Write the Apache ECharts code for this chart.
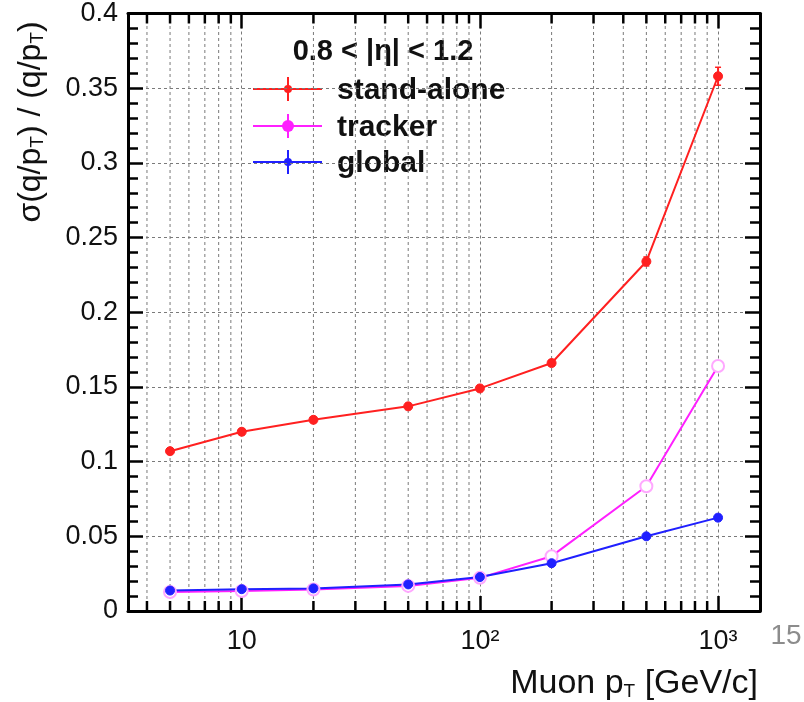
<!DOCTYPE html>
<html>
<head>
<meta charset="utf-8">
<script src="https://cdn.jsdelivr.net/npm/echarts@6/dist/echarts.min.js"></script>
<style>
  html, body { margin: 0; padding: 0; background: #ffffff; }
  #chart { width: 804px; height: 702px; }
</style>
</head>
<body>
<div id="chart"></div>
<script>
// Muon transverse-momentum values (GeV/c)
const ptValues = [5, 10, 20, 50, 100, 200, 500, 1000];

// Relative q/pT resolution per reconstruction type
const standAlone    = [0.107, 0.120, 0.128, 0.137, 0.149, 0.166, 0.234, 0.358];
const standAloneErr = [0.002, 0.002, 0.002, 0.002, 0.002, 0.002, 0.003, 0.006];
const tracker       = [0.0127, 0.0134, 0.0144, 0.0168, 0.0222, 0.0367, 0.0835, 0.164];
const trackerErr    = [0.001, 0.001, 0.001, 0.001, 0.001, 0.0015, 0.002, 0.003];
const globalFit     = [0.0137, 0.0146, 0.0151, 0.0178, 0.0227, 0.0320, 0.0500, 0.0625];
const globalErr     = [0.001, 0.001, 0.001, 0.001, 0.001, 0.001, 0.0015, 0.002];

// Axis ranges and tick labels
const xMin = 3.33, xMax = 1500;
const yMin = 0, yMax = 0.4, yStep = 0.05;
const xDecadeLabels = { 1: '10', 2: '10²', 3: '10³' };
const xMinorValues = [4, 5, 6, 7, 8, 9, 20, 30, 40, 50, 60, 70, 80, 90,
                      200, 300, 400, 500, 600, 700, 800, 900];

const legendHeader = '0.8 < |η| < 1.2';
const seriesNames = ['stand-alone', 'tracker', 'global'];
const seriesColors = ['#ff2020', '#ff20ff', '#2020ff'];

const FONT = '"Liberation Sans", Arial, Helvetica, sans-serif';
const INK = '#111111';
const TICK = '#000000';
const GRID_DASH = { color: '#7a7a7a', width: 1, type: [3, 3] };

function pairs(xs, ys) { return xs.map((x, i) => [x, ys[i]]); }
function triples(xs, ys, es) { return xs.map((x, i) => [x, ys[i], es[i]]); }

// Vertical error bars drawn through the axis scales
function errorBarSeries(name, color, values, errors) {
  return {
    type: 'custom', name: name + ' errors', z: 3, silent: true,
    data: triples(ptValues, values, errors),
    encode: { x: 0, y: 1 },
    renderItem: function (params, api) {
      const x = api.value(0), y = api.value(1), e = api.value(2);
      const lo = api.coord([x, y - e]);
      const hi = api.coord([x, y + e]);
      const cap = 3;
      return { type: 'group', children: [
        { type: 'line', shape: { x1: lo[0], y1: lo[1], x2: hi[0], y2: hi[1] }, style: { stroke: color, lineWidth: 2 } },
        { type: 'line', shape: { x1: hi[0] - cap, y1: hi[1], x2: hi[0] + cap, y2: hi[1] }, style: { stroke: color, lineWidth: 1.5 } },
        { type: 'line', shape: { x1: lo[0] - cap, y1: lo[1], x2: lo[0] + cap, y2: lo[1] }, style: { stroke: color, lineWidth: 1.5 } }
      ]};
    }
  };
}

// Minor log-axis gridlines and ticks (2..9 of each decade)
const minorGridSeries = {
  type: 'custom', name: 'minor grid', z: 1, silent: true,
  data: xMinorValues.map(v => [v, yMin]),
  encode: { x: 0, y: 1 },
  renderItem: function (params, api) {
    const x = api.value(0);
    const b = api.coord([x, yMin]);
    const t = api.coord([x, yMax]);
    return { type: 'group', children: [
      { type: 'line', shape: { x1: b[0], y1: b[1], x2: t[0], y2: t[1] }, style: { stroke: GRID_DASH.color, lineWidth: 1, lineDash: [3, 3] } },
      { type: 'line', shape: { x1: b[0], y1: b[1], x2: b[0], y2: b[1] - 10 }, style: { stroke: TICK, lineWidth: 2.5 } },
      { type: 'line', shape: { x1: t[0], y1: t[1], x2: t[0], y2: t[1] + 10 }, style: { stroke: TICK, lineWidth: 2.5 } }
    ]};
  }
};

function lineSeries(idx, values, symbol, size, extra) {
  return Object.assign({
    type: 'line', name: seriesNames[idx], data: pairs(ptValues, values),
    symbol: symbol, symbolSize: size, z: 4,
    lineStyle: { color: seriesColors[idx], width: 2 },
    itemStyle: { color: seriesColors[idx], borderColor: seriesColors[idx] },
    emphasis: { disabled: true }, animation: false
  }, extra || {});
}

// Legend drawn as graphic keys
const legendRowsY = [89, 126, 162];
const legendGraphics = [];
legendGraphics.push({
  type: 'text', x: 383, y: 52,
  style: { text: legendHeader, fill: INK, fontFamily: FONT, fontWeight: 'bold', fontSize: 29, align: 'center', verticalAlign: 'middle' }
});
legendRowsY.forEach((ry, i) => {
  const c = seriesColors[i];
  legendGraphics.push(
    { type: 'line', shape: { x1: 253, y1: ry, x2: 322, y2: ry }, style: { stroke: c, lineWidth: 2 } },
    { type: 'line', shape: { x1: 288, y1: ry - 12, x2: 288, y2: ry + 12 }, style: { stroke: c, lineWidth: 2 } },
    { type: 'circle', shape: { cx: 288, cy: ry, r: i === 1 ? 6 : 4 }, style: { fill: c } },
    { type: 'text', x: 337, y: ry + 2,
      style: { text: seriesNames[i], fill: INK, fontFamily: FONT, fontWeight: 'bold', fontSize: 30, align: 'left', verticalAlign: 'middle' } }
  );
});

const subRich = { s: { fontSize: 19, fontFamily: FONT, fill: INK, verticalAlign: 'bottom', lineHeight: 12 } };
const frameLine = { color: '#000', width: 3 };

const option = {
  backgroundColor: '#ffffff',
  animation: false,
  textStyle: { fontFamily: FONT },
  grid: { left: 128, right: 44, top: 12, bottom: 91, containLabel: false },
  xAxis: [
    { type: 'log', logBase: 10, min: xMin, max: xMax, position: 'bottom',
      axisLine: { show: true, onZero: false, lineStyle: frameLine },
      axisTick: { show: true, inside: true, length: 15, lineStyle: { color: TICK, width: 2.5 } },
      axisLabel: { show: true, margin: 17, fontSize: 27, color: INK, fontFamily: FONT,
        showMinLabel: false, showMaxLabel: false,
        formatter: function (v) {
          const p = Math.round(Math.log10(v));
          return (Math.abs(Math.log10(v) - p) < 1e-6 && xDecadeLabels[p]) ? xDecadeLabels[p] : '';
        } },
      splitLine: { show: true, lineStyle: GRID_DASH } },
    { type: 'log', logBase: 10, min: xMin, max: xMax, position: 'top',
      axisLine: { show: true, onZero: false, lineStyle: frameLine },
      axisTick: { show: true, inside: true, length: 15, lineStyle: { color: TICK, width: 2.5 } },
      axisLabel: { show: false }, splitLine: { show: false } }
  ],
  yAxis: [
    { type: 'value', min: yMin, max: yMax, interval: yStep, position: 'left',
      axisLine: { show: true, onZero: false, lineStyle: frameLine },
      axisTick: { show: true, inside: true, length: 15, lineStyle: { color: TICK, width: 2.5 } },
      minorTick: { show: true, splitNumber: 5, length: 10, lineStyle: { color: TICK, width: 2.5 } },
      axisLabel: { show: true, margin: 10, fontSize: 27, color: INK, fontFamily: FONT },
      splitLine: { show: true, lineStyle: GRID_DASH } },
    { type: 'value', min: yMin, max: yMax, interval: yStep, position: 'right',
      axisLine: { show: true, onZero: false, lineStyle: frameLine },
      axisTick: { show: true, inside: true, length: 15, lineStyle: { color: TICK, width: 2.5 } },
      minorTick: { show: true, splitNumber: 5, length: 10, lineStyle: { color: TICK, width: 2.5 } },
      axisLabel: { show: false }, splitLine: { show: false } }
  ],
  series: [
    minorGridSeries,
    lineSeries(0, standAlone, 'circle', 9),
    errorBarSeries(seriesNames[0], seriesColors[0], standAlone, standAloneErr),
    lineSeries(1, tracker, 'emptyCircle', 12, { itemStyle: { color: '#ffa8ff', borderColor: seriesColors[1], borderWidth: 2 } }),
    errorBarSeries(seriesNames[1], seriesColors[1], tracker, trackerErr),
    lineSeries(2, globalFit, 'circle', 9),
    errorBarSeries(seriesNames[2], seriesColors[2], globalFit, globalErr)
  ],
  graphic: legendGraphics.concat([
    { type: 'text', x: 31, y: 122, rotation: Math.PI / 2,
      style: { text: 'σ(q/p{s|T}) / (q/p{s|T})', fill: INK, fontFamily: FONT, fontSize: 32, align: 'center', verticalAlign: 'middle', rich: subRich } },
    { type: 'text', x: 758, y: 684,
      style: { text: 'Muon p{s|T} [GeV/c]', fill: INK, fontFamily: FONT, fontSize: 34, align: 'right', verticalAlign: 'middle', rich: subRich } },
    { type: 'text', x: 786, y: 636,
      style: { text: '15', fill: '#8c8c8c', fontFamily: FONT, fontSize: 28, align: 'center', verticalAlign: 'middle' } }
  ])
};

const chart = echarts.init(document.getElementById('chart'), null, { renderer: 'canvas' });
chart.setOption(option);
</script>
</body>
</html>
